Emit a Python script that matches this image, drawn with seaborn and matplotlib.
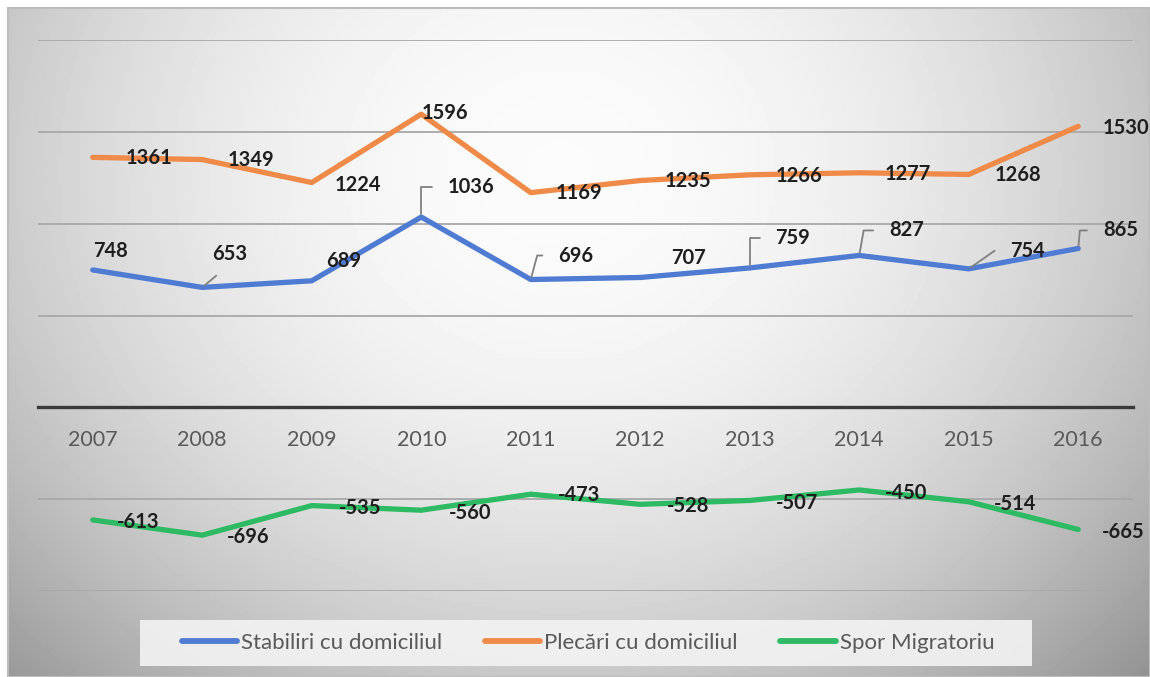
import numpy as np
import pandas as pd
import matplotlib
matplotlib.use("Agg")
import matplotlib.pyplot as plt
from matplotlib.patches import Rectangle
import seaborn as sns

years = [2007, 2008, 2009, 2010, 2011, 2012, 2013, 2014, 2015, 2016]
stabiliri = [748, 653, 689, 1036, 696, 707, 759, 827, 754, 865]
plecari = [1361, 1349, 1224, 1596, 1169, 1235, 1266, 1277, 1268, 1530]
spor = [-613, -696, -535, -560, -473, -528, -507, -450, -514, -665]
series_names = ["Stabiliri cu domiciliul", "Plecări cu domiciliul", "Spor Migratoriu"]
colors = ["#4F7BD3", "#F08A48", "#2DBA62"]

# label offsets in pixels (dx, dy) relative to each point, dy up positive
off_stab = [(18, 19), (27, 33), (32, 20), (50, 30), (45, 24), (48, 19), (43, 30), (47, 25), (59, 18), (42, 18)]
lead_stab = [None, 40, None, 90, 75, None, 90, 80, 35, 85]
off_plec = [(56, -1), (49, 0), (46, -2), (24, 1), (48, 0), (48, 0), (49, -1), (49, -1), (49, -1), (48, -2)]
off_spor = [(45, -2), (46, -2), (48, -2), (49, -3), (48, -1), (48, -2), (47, -3), (47, -3), (46, -2), (45, -3)]

df = pd.DataFrame({
    "an": years * 3,
    "valoare": stabiliri + plecari + spor,
    "serie": [series_names[0]] * 10 + [series_names[1]] * 10 + [series_names[2]] * 10,
})

sns.set_theme(style="white")
plt.rcParams["font.family"] = ["Lato", "DejaVu Sans"]

W, H = 1150, 677
fig = plt.figure(figsize=(W / 100, H / 100), dpi=100, facecolor="white")

# gradient background panel
bg = fig.add_axes([8 / W, 0, (W - 8) / W, (H - 8) / H], zorder=0)
gx, gy = np.meshgrid(np.linspace(8, W, 300), np.linspace(8, H, 200))
d2 = ((gx - 560) / 680) ** 2 + ((gy - 170) / 600) ** 2
shade = np.clip(0.985 - 0.28 * d2, 0, 1)
bg.imshow(shade, cmap="gray", vmin=0, vmax=1, aspect="auto", extent=[0, 1, 0, 1], origin="upper")
bg.set_xlim(0, 1)
bg.set_ylim(0, 1)
for s in bg.spines.values():
    s.set_color("#BDBDBD")
    s.set_linewidth(1.5)
bg.set_xticks([])
bg.set_yticks([])

ax = fig.add_axes([38 / W, (H - 591) / H, (1133 - 38) / W, (591 - 40) / H], zorder=1)
ax.set_facecolor("none")

sns.lineplot(data=df, x="an", y="valoare", hue="serie", hue_order=series_names,
             palette=colors, linewidth=3.8, ax=ax, legend=True)
for ln in ax.lines:
    ln.set_solid_capstyle("round")
    ln.set_solid_joinstyle("round")

ax.set_xlim(2006.5, 2016.5)
ax.set_ylim(-1000, 2000)
ax.set_yticks([-1000, -500, 500, 1000, 1500, 2000])
ax.yaxis.grid(True, color="#A8A8A8", linewidth=1.3)
ax.set_yticklabels([])
ax.tick_params(axis="y", length=0)
for side in ["top", "left", "right"]:
    ax.spines[side].set_visible(False)
ax.spines["bottom"].set_position(("data", 0))
ax.spines["bottom"].set_color("#3A3A3A")
ax.spines["bottom"].set_linewidth(2.4)
ax.spines["bottom"].set_zorder(0.5)
ax.set_xticks(years)
ax.set_xticklabels([str(y) for y in years])
ax.tick_params(axis="x", length=0, pad=16.5, labelsize=15.5, labelcolor="#595959")
ax.set_xlabel("")
ax.set_ylabel("")

lab_kw = dict(textcoords="offset pixels", ha="center", va="center",
              fontsize=14.5, fontweight="bold", color="#1E1E1E", zorder=5)

for i, (yr, v) in enumerate(zip(years, stabiliri)):
    dx, dy = off_stab[i]
    if lead_stab[i] is None:
        ax.annotate(str(v), (yr, v), xytext=(dx, dy), **lab_kw)
    else:
        ax.annotate(str(v), (yr, v), xytext=(dx, dy),
                    arrowprops=dict(arrowstyle="-", color="#808080", lw=1.3,
                                    connectionstyle=f"angle,angleA=180,angleB={lead_stab[i]},rad=0",
                                    shrinkA=9, shrinkB=2),
                    **lab_kw)
for i, (yr, v) in enumerate(zip(years, plecari)):
    dx, dy = off_plec[i]
    ax.annotate(str(v), (yr, v), xytext=(dx, dy), **lab_kw)
for i, (yr, v) in enumerate(zip(years, spor)):
    dx, dy = off_spor[i]
    ax.annotate(str(v), (yr, v), xytext=(dx, dy), **lab_kw)

# legend box drawn separately, legend itself frameless
fig.patches.append(Rectangle((140 / W, 1 - 666 / H), (1032 - 140) / W, 46 / H,
                             transform=fig.transFigure, facecolor="#F3F3F3", alpha=0.9,
                             edgecolor="none", zorder=2))
handles, labels = ax.get_legend_handles_labels()
ax.legend_.remove()
leg = fig.legend(handles, labels, loc="center", bbox_to_anchor=(588 / W, 1 - 643 / H),
                 ncol=3, frameon=False, fontsize=16, handlelength=2.5, handletextpad=0.18,
                 columnspacing=1.9, borderpad=0.2)
leg.set_zorder(3)
for t in leg.get_texts():
    t.set_color("#595959")
for h in leg.get_lines():
    h.set_linewidth(4.2)
    h.set_solid_capstyle("round")

fig.savefig("out.png", dpi=100, facecolor="white")
